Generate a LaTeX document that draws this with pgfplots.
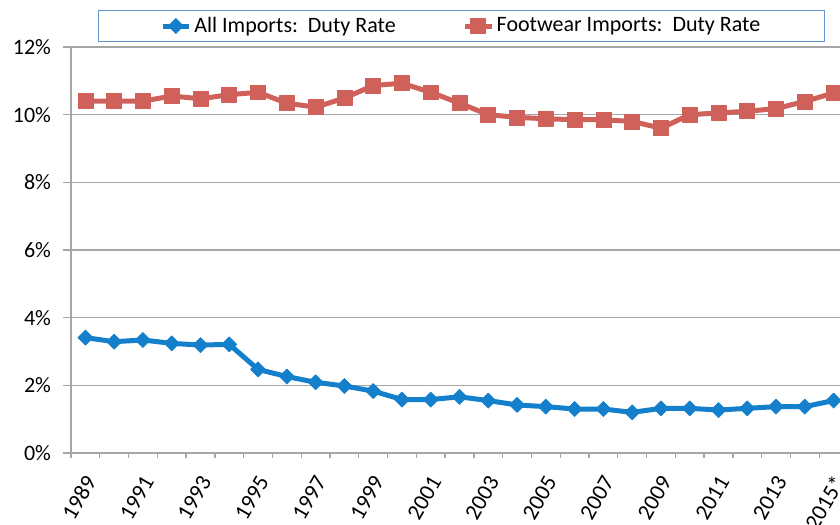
\documentclass[border=0pt]{standalone}
\usepackage{fontspec}
\setmainfont{Carlito}
\usepackage{pgfplots}
\pgfplotsset{compat=1.18}
\definecolor{bl}{RGB}{20,128,204}
\definecolor{rd}{RGB}{208,96,90}
\definecolor{gr}{RGB}{166,166,166}
\definecolor{lb}{RGB}{100,150,205}
\begin{document}
\fontsize{16}{19}\selectfont
\begin{tikzpicture}
\begin{axis}[
 at={(53.25pt,54pt)}, anchor=south west, scale only axis,
 width=582.75pt, height=304.5pt,
 xmin=-0.5, xmax=26.5, ymin=0, ymax=12,
 ytick={0,2,...,12}, yticklabels={0\%,2\%,4\%,6\%,8\%,10\%,12\%},
 xtick={0,2,...,26},
 xticklabels={1989,1991,1993,1995,1997,1999,2001,2003,2005,2007,2009,2011,2013,2015*},
 minor xtick={-0.5,0.5,...,26.5},
 major x tick style={draw=none},
 tick align=outside,
 major tick length=6pt, minor tick length=4pt,
 tick style={gr, line width=1pt},
 axis x line*=bottom, axis y line*=left,
 axis line style={gr, line width=1.2pt},
 ymajorgrids, grid style={gr, line width=1pt},
 yticklabel style={xshift=-3.5pt, font=\fontsize{16.5}{19}\selectfont},
 xticklabel style={font=\fontsize{17}{19}\selectfont, inner sep=0pt,
   xshift=4pt, yshift=-12.5pt, rotate=60, anchor=east},
 legend columns=2,
 legend style={at={(0.5026,1.0517)}, anchor=center, draw=lb, line width=0.8pt,
   inner xsep=46pt, inner ysep=3pt, font=\fontsize{16.5}{19}\selectfont,
   /tikz/every even column/.append style={column sep=48pt}},
 legend image code/.code={\draw[mark repeat=2, mark phase=2, #1] plot coordinates {(0pt,0pt) (10pt,0pt) (20pt,0pt)};},
 legend cell align=left,
]
\addplot[bl, line width=3.75pt, line join=round, mark=square*, mark size=4pt,
  mark options={rotate=45, line width=0.5pt}]
 coordinates {
(0,3.41)(1,3.29)(2,3.34)(3,3.24)(4,3.19)(5,3.21)(6,2.47)(7,2.26)(8,2.09)(9,1.98)
(10,1.83)(11,1.58)(12,1.58)(13,1.66)(14,1.55)(15,1.42)(16,1.37)(17,1.30)(18,1.30)
(19,1.20)(20,1.32)(21,1.32)(22,1.27)(23,1.32)(24,1.37)(25,1.37)(26,1.55)};
\addlegendentry{All Imports:\ \ Duty Rate}
\addplot[rd, line width=3.75pt, line join=round, mark=square*, mark size=5.6pt,
  mark options={line width=0.5pt}]
 coordinates {
(0,10.40)(1,10.40)(2,10.40)(3,10.55)(4,10.47)(5,10.59)(6,10.66)(7,10.34)(8,10.22)
(9,10.49)(10,10.86)(11,10.93)(12,10.66)(13,10.34)(14,10.00)(15,9.92)(16,9.88)
(17,9.85)(18,9.85)(19,9.80)(20,9.60)(21,10.00)(22,10.05)(23,10.10)(24,10.18)
(25,10.39)(26,10.64)};
\addlegendentry{Footwear Imports:\ \ Duty Rate}
\end{axis}
\pgfresetboundingbox
\useasboundingbox (0pt,0pt) rectangle (630pt,393.75pt);
\end{tikzpicture}
\end{document}
